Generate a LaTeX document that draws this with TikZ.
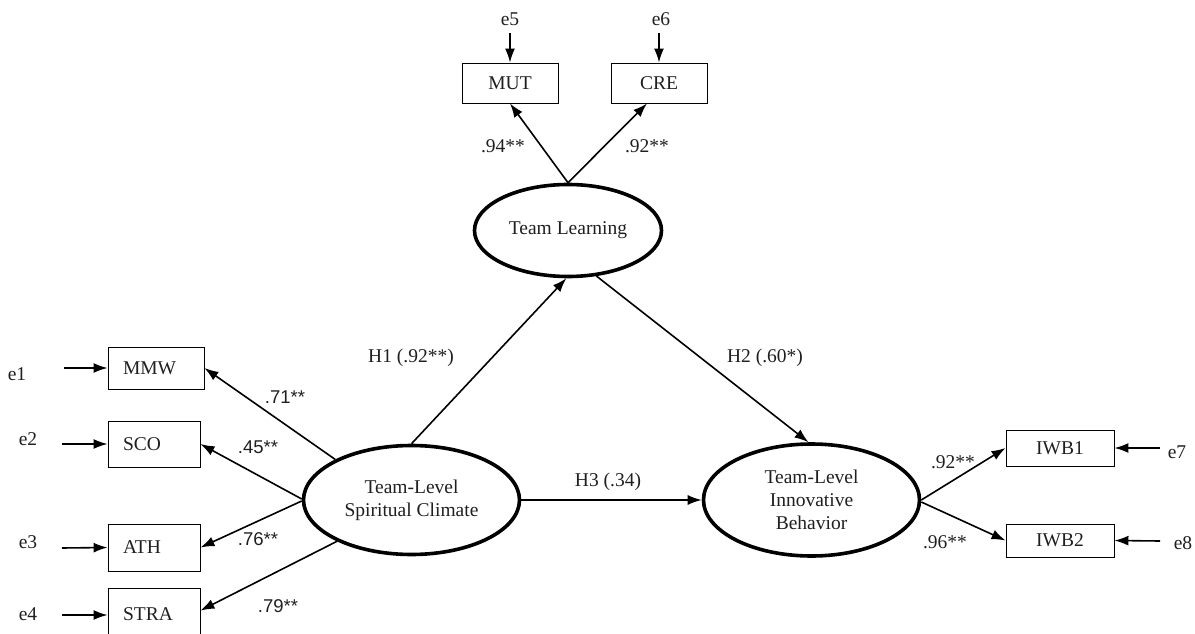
\documentclass[tikz,border=0pt]{standalone}
\usepackage{fontspec}
\setmainfont{Liberation Serif}
\newfontfamily\labsans{Liberation Sans}
\usetikzlibrary{shapes.geometric,arrows.meta,calc}
\begin{document}
\begin{tikzpicture}[x=1pt,y=-1pt,
  font=\fontsize{19.5}{22}\selectfont,
  obs/.style={draw, line width=0.9pt, rectangle, inner sep=0pt, text=black!88},
  obsl/.style={obs, inner xsep=15pt, align=left},
  lat/.style={draw, ellipse, line width=3.6pt, inner sep=0pt, align=center, text=black!88, font=\fontsize{19.5}{23}\selectfont},
  arr/.style={-{Latex[length=14pt,width=10pt]}, line width=1.6pt},
  lab/.style={inner sep=0pt, text=black!88},
  slab/.style={inner sep=0pt, text=black!88, font=\labsans\fontsize{18.5}{22}\selectfont}
]
\useasboundingbox (0,0) rectangle (1195,634);

% latent variables
\node[lat, minimum width=216pt, minimum height=109pt] (sc) at (411.5,500) {Team-Level\\Spiritual Climate};
\node[lat, minimum width=216pt, minimum height=112pt] (ib) at (811.5,500) {Team-Level\\Innovative\\Behavior};
\node[lat, minimum width=187pt, minimum height=92pt] (tl) at (568,230.5) {Team Learning};

% observed indicators (left)
\node[obsl, text width=66pt, minimum height=42pt] (mmw) at (156,368) {MMW};
\node[obsl, text width=62pt, minimum height=46pt] (sco) at (154,444) {SCO};
\node[obsl, text width=62pt, minimum height=47pt] (ath) at (154,547.5) {ATH};
\node[obsl, text width=62pt, minimum height=52pt] (stra) at (154,614) {STRA};

% observed indicators (top)
\node[obs, minimum width=96pt, minimum height=40pt] (mut) at (510,83) {MUT};
\node[obs, minimum width=96pt, minimum height=40pt] (cre) at (659,83) {CRE};

% observed indicators (right)
\node[obs, minimum width=108pt, minimum height=36pt] (iwb1) at (1060,448) {IWB1};
\node[obs, minimum width=108pt, minimum height=33pt] (iwb2) at (1060,540.5) {IWB2};

% error terms
\node[lab] (e1) at (17,374) {e1};
\node[lab] (e2) at (28,439) {e2};
\node[lab] (e3) at (28,542) {e3};
\node[lab] (e4) at (28,614) {e4};
\node[lab] (e5) at (510,19) {e5};
\node[lab] (e6) at (661,19) {e6};
\node[lab] (e7) at (1177,452) {e7};
\node[lab] (e8) at (1183,543) {e8};

\coordinate (e1s) at (64,368);
\coordinate (e2s) at (62,444);
\coordinate (e3s) at (62,548);
\coordinate (e4s) at (62,615);
\coordinate (e5s) at (510,33);
\coordinate (e6s) at (659,33);
\coordinate (e7s) at (1160,448);
\coordinate (e8s) at (1160,541);

\draw[arr] (e1s) -- (mmw.west);
\draw[arr] (e2s) -- (sco.west);
\draw[arr] (e3s) -- (ath.west);
\draw[arr] (e4s) -- (e4s -| stra.west);
\draw[arr] (e5s) -- (mut.north);
\draw[arr] (e6s) -- (cre.north);
\draw[arr] (e7s) -- (iwb1.east);
\draw[arr] (e8s) -- (iwb2.east);

% loadings
\draw[arr] (sc.152) -- (mmw.east);
\draw[arr] ($(sc.west)+(0,-1)$) -- (sco.east);
\draw[arr] ($(sc.west)+(0,1)$) -- (ath.east);
\draw[arr] (sc.209) -- ($(stra.north east)+(0,23)$);
\draw[arr] (tl.north) -- (mut.south);
\draw[arr] (tl.north) -- ($(cre.south)+(-12,0)$);
\draw[arr] (ib.east) -- (iwb1.west);
\draw[arr] ($(ib.east)+(0,2)$) -- (iwb2.west);

% structural paths
\draw[arr] (sc.north) -- (tl.-92);
\draw[arr] (tl.-58) -- (ib.93);
\draw[arr] (sc.east) -- (ib.west);

% labels
\node[slab] (l71) at (285,397) {.71**};
\node[slab] (l45) at (258,447) {.45**};
\node[slab] (l76) at (258,539) {.76**};
\node[slab] (l79) at (278,606) {.79**};
\node[lab] (l94) at (503,146) {.94**};
\node[lab] (l92a) at (647,146) {.92**};
\node[lab] (l92b) at (953,462) {.92**};
\node[lab] (l96) at (945,542) {.96**};
\node[lab] (h1) at (411,358) {H1 (.92**)};
\node[lab] (h2) at (765,358) {H2 (.60*)};
\node[lab] (h3) at (608,482) {H3 (.34)};
\end{tikzpicture}
\end{document}
